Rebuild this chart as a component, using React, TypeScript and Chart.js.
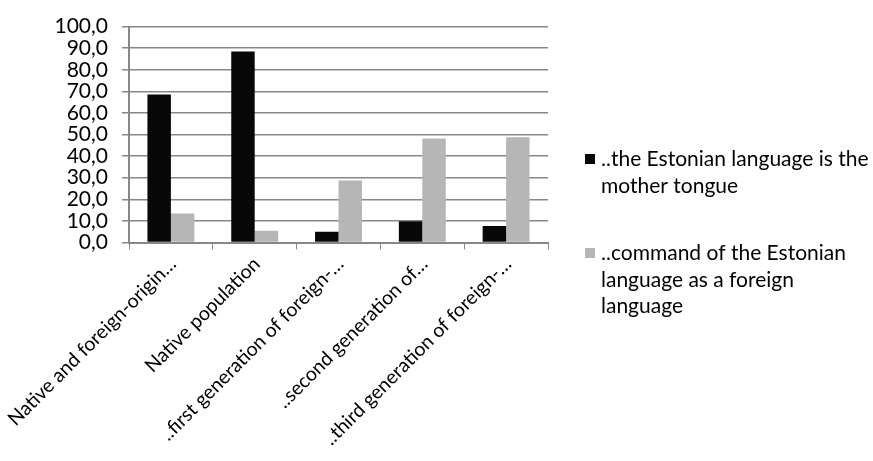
import React, { useEffect, useRef } from "react";
import { Chart, registerables } from "chart.js";

Chart.register(...registerables);

const categories = [
  "Native and foreign-origin…",
  "Native population",
  "..first generation of foreign-…",
  "..second generation of…",
  "..third generation of foreign-…",
];

const motherTongue = [68.5, 88.5, 5.0, 9.9, 7.6];
const foreignLanguage = [13.4, 5.4, 28.7, 48.2, 48.7];

const seriesLines = [
  ["..the Estonian language is the", "mother tongue"],
  ["..command of the Estonian", "language as a foreign", "language"],
];

const seriesColors = ["#080808", "#b6b6b6"];
const gridColor = "#878787";
const FONT = "Lato, 'Open Sans', sans-serif";

// Legend at the right, with wrapped multi-line entries
const sideLegend = {
  id: "sideLegend",
  afterDraw(chart: any) {
    const ctx = chart.ctx;
    const boxX = 585;
    const textX = 601;
    const lineH = 26.5;
    const firstBaselines = [166, 260];
    ctx.save();
    ctx.font = `21px ${FONT}`;
    ctx.textBaseline = "alphabetic";
    ctx.textAlign = "left";
    chart.data.datasets.forEach((ds: any, i: number) => {
      const base = firstBaselines[i];
      ctx.fillStyle = ds.backgroundColor;
      ctx.fillRect(boxX, base - 12, 10, 10);
      ctx.fillStyle = "#000";
      seriesLines[i].forEach((line, j) => {
        ctx.fillText(line, textX, base + j * lineH);
      });
    });
    ctx.restore();
  },
};

export default function App() {
  const ref = useRef<HTMLCanvasElement | null>(null);

  useEffect(() => {
    document.body.style.margin = "0";
    const canvas = ref.current;
    if (!canvas) return;
    const chart = new Chart(canvas, {
      type: "bar",
      data: {
        labels: categories,
        datasets: [
          {
            label: seriesLines[0].join(" "),
            data: motherTongue,
            backgroundColor: seriesColors[0],
            categoryPercentage: 0.56,
            barPercentage: 1,
          },
          {
            label: seriesLines[1].join(" "),
            data: foreignLanguage,
            backgroundColor: seriesColors[1],
            categoryPercentage: 0.56,
            barPercentage: 1,
          },
        ],
      },
      options: {
        responsive: false,
        animation: false,
        layout: { padding: { left: 0, right: 325, top: 16, bottom: 0 } },
        plugins: {
          legend: { display: false },
          tooltip: { enabled: false },
        },
        scales: {
          x: {
            offset: true,
            grid: {
              offset: true,
              drawOnChartArea: false,
              drawTicks: true,
              tickLength: 7,
              color: gridColor,
            },
            border: { display: true, color: gridColor, width: 2 },
            ticks: {
              maxRotation: 45,
              minRotation: 45,
              autoSkip: false,
              color: "#000",
              padding: 3,
              labelOffset: 2,
              font: { family: FONT, size: 19.5 },
            },
            afterFit: (s: any) => {
              s.height = 218.5;
              s.paddingLeft = 0;
              s.paddingRight = 0;
            },
          },
          y: {
            min: 0,
            max: 100,
            grid: {
              color: gridColor,
              lineWidth: 1.5,
              drawTicks: true,
              tickLength: 7,
            },
            border: { display: true, color: gridColor, width: 2 },
            ticks: {
              stepSize: 10,
              autoSkip: false,
              color: "#000",
              padding: 14,
              font: { family: FONT, size: 21 },
              callback: (v: any) => Number(v).toFixed(1).replace(".", ","),
            },
            afterFit: (s: any) => {
              s.width = 129;
            },
          },
        },
      },
      plugins: [sideLegend],
    });
    return () => chart.destroy();
  }, []);

  return (
    <div style={{ width: 873, height: 461 }}>
      <canvas ref={ref} width={873} height={461} />
    </div>
  );
}
